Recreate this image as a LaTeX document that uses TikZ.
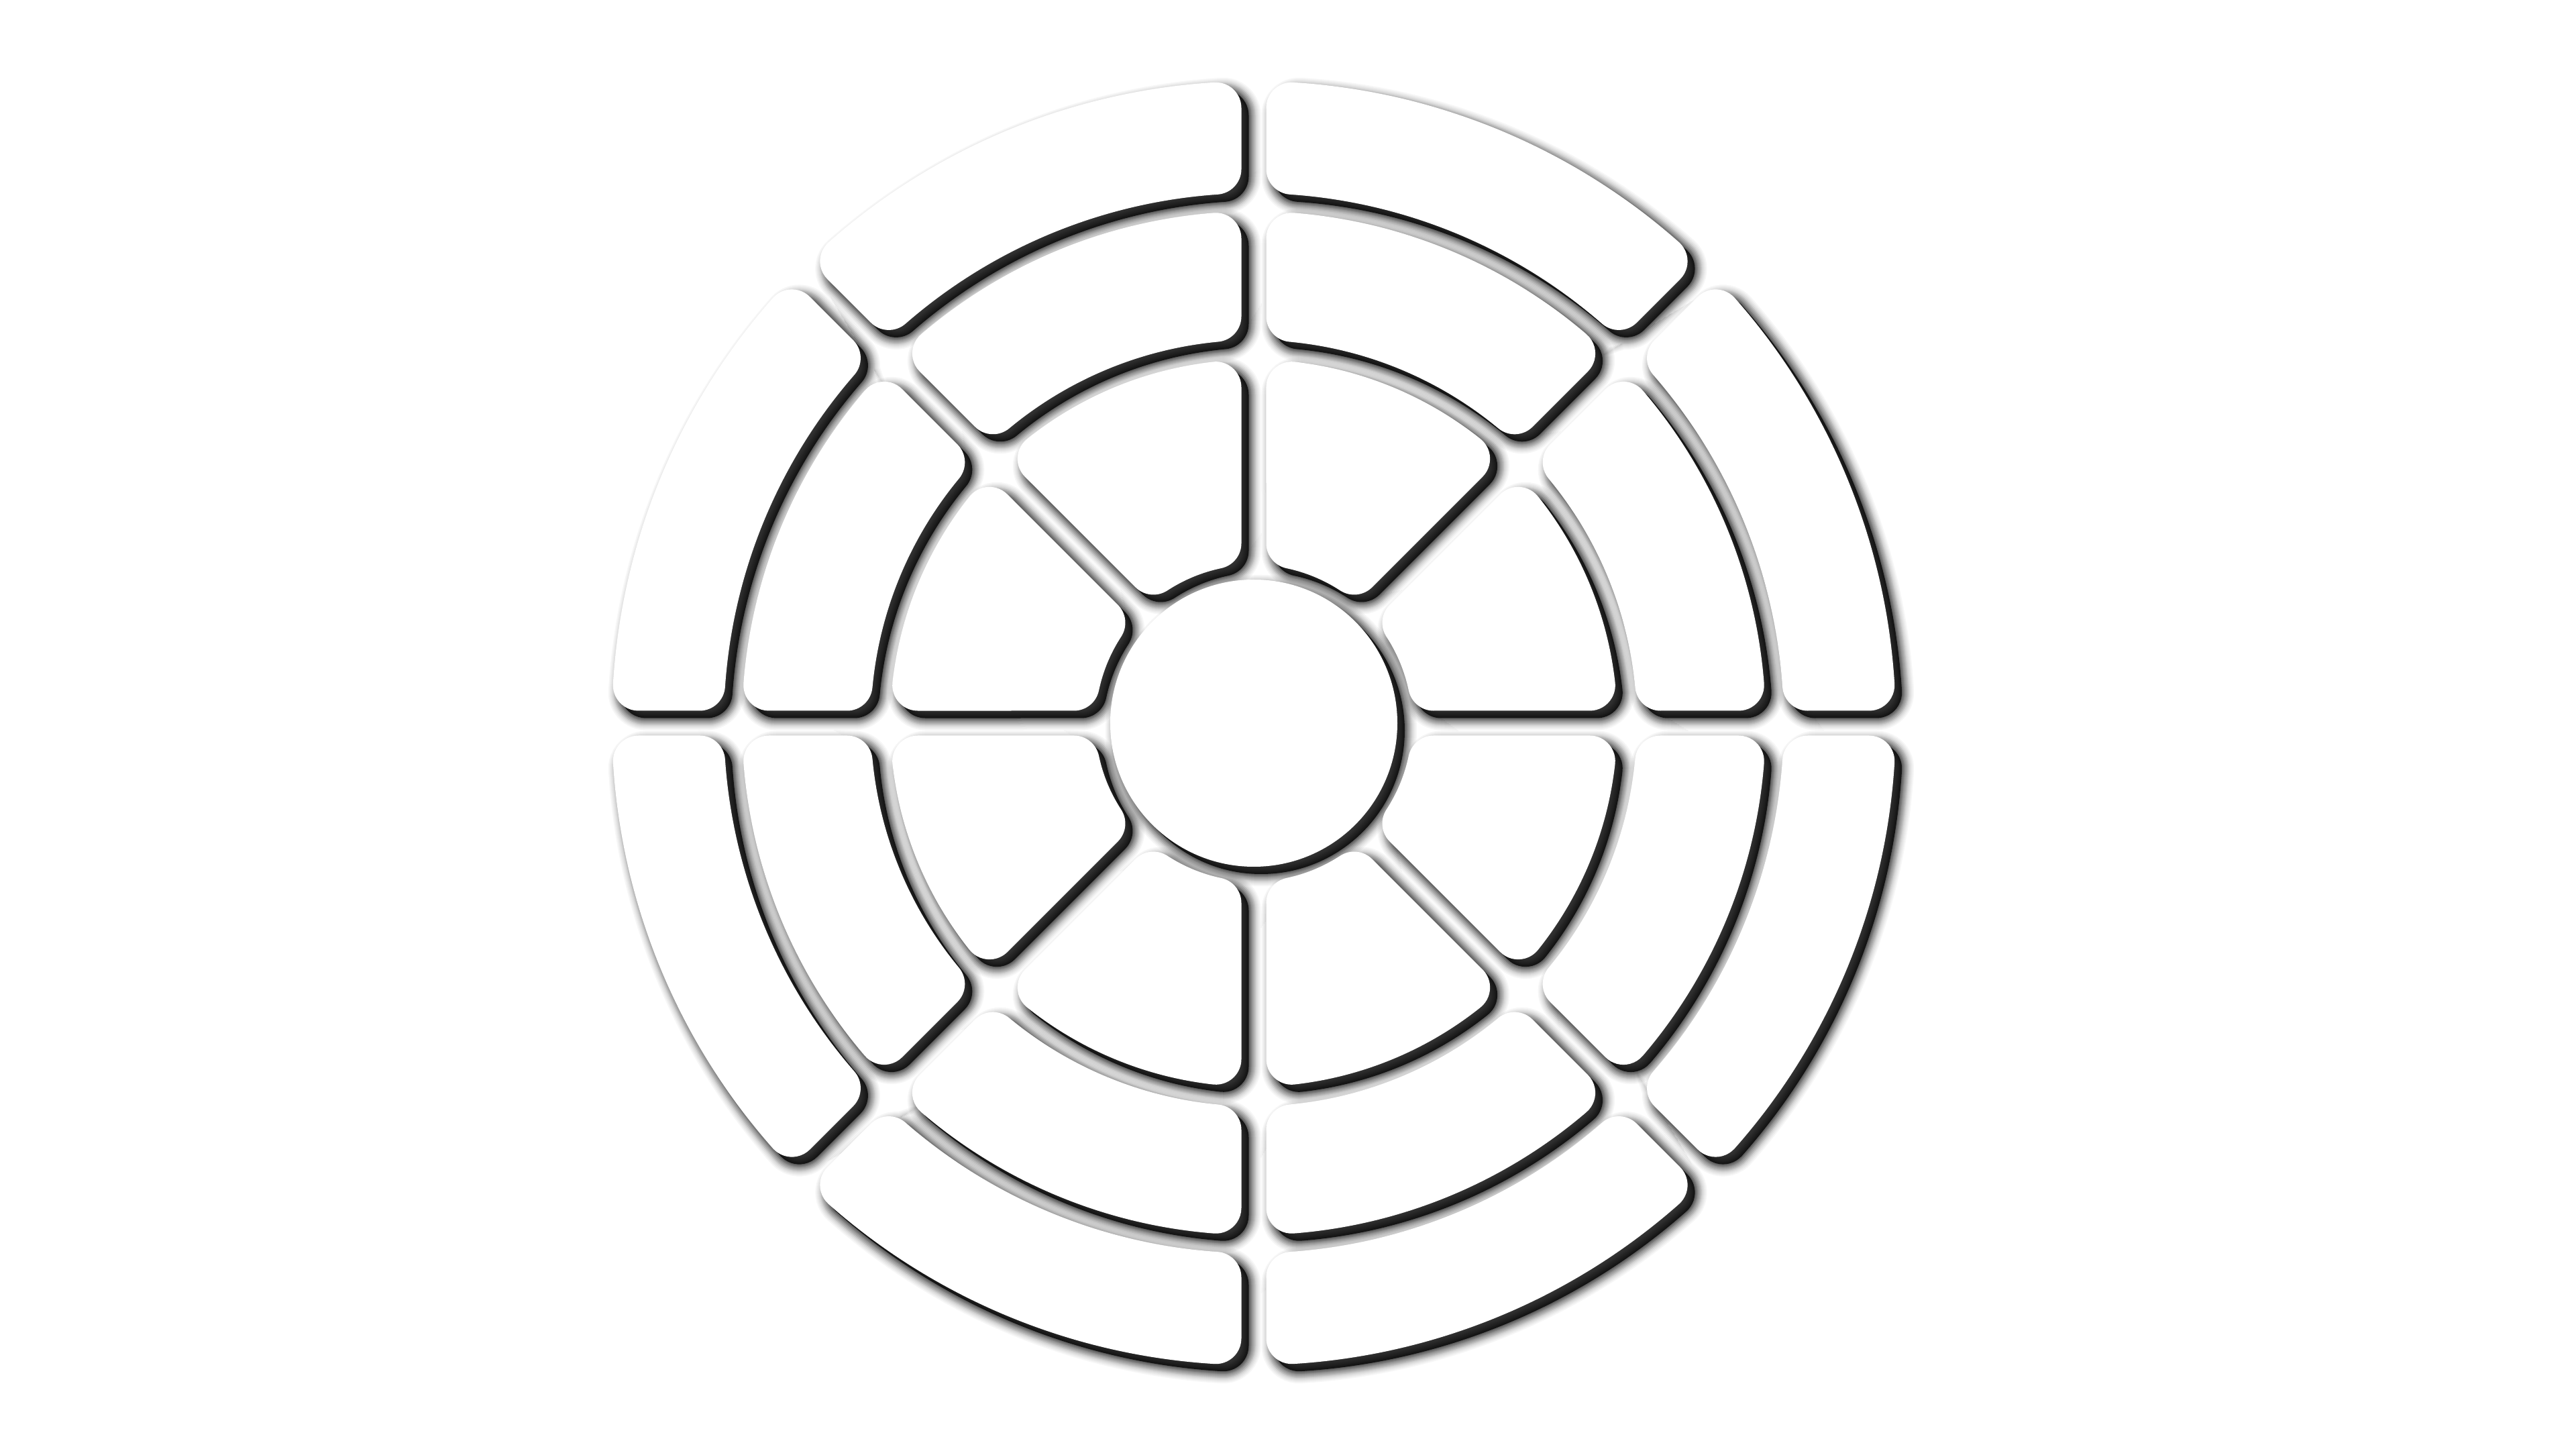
\documentclass[tikz,border=0pt]{standalone}
\usetikzlibrary{calc}
\def\gd{0.185}
\def\rr{0.38}
\newcommand\mysector[4]{%
  \pgfmathsetmacro\ta{#1}%
  \pgfmathsetmacro\tb{#1+45}%
  \pgfmathsetmacro\aone{asin((\gd+\rr)/(#2+\rr))}%
  \pgfmathsetmacro\atwo{asin((\gd+\rr)/(#3-\rr))}%
  \pgfmathsetmacro\tone{(#2+\rr)*cos(\aone)}%
  \pgfmathsetmacro\ttwo{(#3-\rr)*cos(\atwo)}%
  \path[#4] ($(\ta:\tone)+(\ta+90:\gd)$) -- ($(\ta:\ttwo)+(\ta+90:\gd)$)
    arc[start angle=\ta-90, end angle=\ta+\atwo, radius=\rr]
    arc[start angle=\ta+\atwo, end angle=\tb-\atwo, radius=#3]
    arc[start angle=\tb-\atwo, end angle=\tb+90, radius=\rr]
    -- ($(\tb:\tone)+(\tb-90:\gd)$)
    arc[start angle=\tb+90, end angle=\tb-\aone+180, radius=\rr]
    arc[start angle=\tb-\aone, end angle=\ta+\aone, radius=#2]
    arc[start angle=\ta+\aone+180, end angle=\ta+270, radius=\rr]
    -- cycle;%
}
\newcommand\allshapes[1]{%
  \foreach \ri/\ro in {2.36/5.42, 5.71/7.63, 7.90/9.57}{%
    \foreach \k in {0,...,7}{%
      \mysector{\k*45}{\ri}{\ro}{#1}%
    }%
  }%
  \path[#1] (0,0) circle[radius=2.14];%
}
\tikzset{
  shadowfill/.style={fill=black, fill opacity=0.78},
  shadowlayer/.style 2 args={draw=black, draw opacity=#2, line width=#1 cm},
  tile/.style={fill=white}
}
\begin{document}
\begin{tikzpicture}
  \useasboundingbox[fill=white] (-18.69,-10.82) rectangle (19.71,10.78);
  \begin{scope}[shift={(0.11,-0.11)}]
    \allshapes{shadowfill}
    \foreach \lw/\op in {0.36/0.035, 0.32/0.04, 0.28/0.045, 0.24/0.06, 0.20/0.1, 0.16/0.11, 0.12/0.11, 0.08/0.18, 0.04/0.18}{%
      \allshapes{shadowlayer={\lw}{\op}}%
    }
  \end{scope}
  \allshapes{tile}
\end{tikzpicture}
\end{document}
